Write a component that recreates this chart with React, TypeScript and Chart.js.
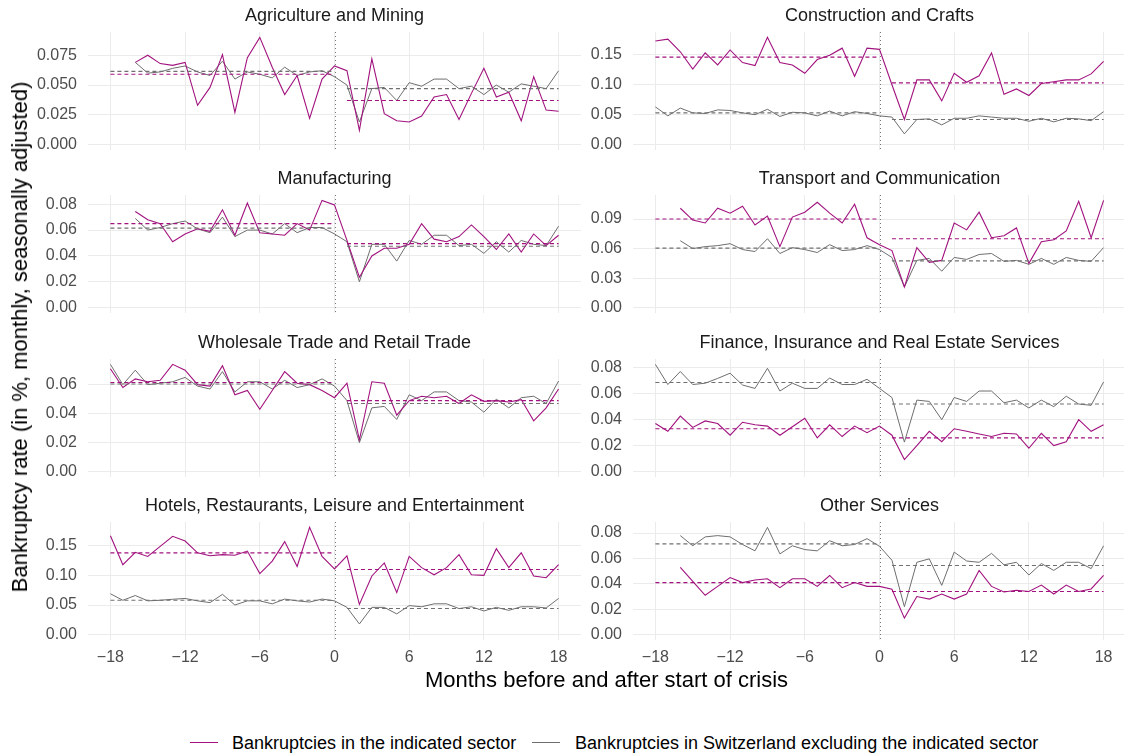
import React, { useEffect, useRef } from "react";
import { Chart, registerables } from "chart.js";

Chart.register(...registerables);

// ---------------- DATA ----------------
const months = [
  -18, -17, -16, -15, -14, -13, -12, -11, -10, -9, -8, -7, -6, -5, -4, -3, -2, -1, 0,
  1, 2, 3, 4, 5, 6, 7, 8, 9, 10, 11, 12, 13, 14, 15, 16, 17, 18,
];
const xTicks = [-18, -12, -6, 0, 6, 12, 18];

const agriSector = [
  null, null, 0.069, 0.075, 0.068, 0.0665, 0.069, 0.033, 0.048, 0.0755, 0.027, 0.073, 0.09, 0.065, 0.042, 0.058, 0.022, 0.055, 0.066,
  0.062, 0.012, 0.072, 0.026, 0.02, 0.019, 0.024, 0.04, 0.042, 0.021, 0.043, 0.064, 0.04, 0.044, 0.02, 0.057, 0.029, 0.028,
];
const agriRest = [
  null, null, 0.069, 0.06, 0.061, 0.064, 0.066, 0.061, 0.058, 0.07, 0.055, 0.061, 0.059, 0.056, 0.065, 0.058, 0.061, 0.062, 0.057,
  0.05, 0.019, 0.047, 0.048, 0.037, 0.052, 0.049, 0.055, 0.055, 0.047, 0.049, 0.042, 0.05, 0.044, 0.051, 0.049, 0.047, 0.062,
];
const agriSectorMeans = [0.059, 0.037];
const agriRestMeans = [0.0615, 0.047];
const agriYTicks = [0, 0.025, 0.05, 0.075];

const constrSector = [
  0.173, 0.176, 0.155, 0.126, 0.153, 0.133, 0.158, 0.137, 0.132, 0.179, 0.137, 0.133, 0.119, 0.142, 0.149, 0.161, 0.114, 0.161, 0.159,
  0.1, 0.042, 0.108, 0.108, 0.073, 0.119, 0.104, 0.115, 0.153, 0.084, 0.093, 0.082, 0.102, 0.105, 0.108, 0.108, 0.118, 0.139,
];
const constrRest = [
  0.063, 0.048, 0.061, 0.053, 0.052, 0.058, 0.057, 0.053, 0.05, 0.059, 0.047, 0.054, 0.053, 0.048, 0.056, 0.048, 0.055, 0.052, 0.048,
  0.046, 0.018, 0.042, 0.043, 0.033, 0.044, 0.044, 0.048, 0.046, 0.044, 0.044, 0.039, 0.044, 0.038, 0.044, 0.043, 0.04, 0.055,
];
const constrSectorMeans = [0.146, 0.103];
const constrRestMeans = [0.053, 0.042];
const constrYTicks = [0, 0.05, 0.1, 0.15];

const manuSector = [
  null, null, 0.0744, 0.068, 0.065, 0.051, 0.057, 0.061, 0.059, 0.0757, 0.056, 0.081, 0.058, 0.057, 0.056, 0.065, 0.06, 0.083, 0.0795,
  0.052, 0.0235, 0.04, 0.046, 0.046, 0.049, 0.065, 0.053, 0.051, 0.055, 0.064, 0.055, 0.045, 0.057, 0.043, 0.057, 0.048, 0.056,
];
const manuRest = [
  null, null, 0.069, 0.06, 0.062, 0.065, 0.067, 0.061, 0.058, 0.07, 0.055, 0.06, 0.06, 0.057, 0.065, 0.058, 0.062, 0.062, 0.057,
  0.051, 0.02, 0.049, 0.049, 0.036, 0.052, 0.049, 0.056, 0.056, 0.048, 0.049, 0.042, 0.051, 0.043, 0.052, 0.049, 0.048, 0.063,
];
const manuSectorMeans = [0.065, 0.0495];
const manuRestMeans = [0.0615, 0.0475];
const manuYTicks = [0, 0.02, 0.04, 0.06, 0.08];

const transSector = [
  null, null, 0.101, 0.089, 0.086, 0.101, 0.096, 0.103, 0.084, 0.093, 0.062, 0.092, 0.097, 0.107, 0.096, 0.086, 0.105, 0.071, 0.064,
  0.058, 0.021, 0.061, 0.046, 0.048, 0.086, 0.079, 0.097, 0.071, 0.073, 0.081, 0.045, 0.067, 0.069, 0.078, 0.108, 0.071, 0.109,
];
const transRest = [
  null, null, 0.068, 0.06, 0.062, 0.063, 0.065, 0.059, 0.057, 0.07, 0.055, 0.061, 0.059, 0.056, 0.064, 0.058, 0.059, 0.063, 0.059,
  0.051, 0.021, 0.048, 0.05, 0.037, 0.051, 0.049, 0.054, 0.055, 0.047, 0.048, 0.044, 0.05, 0.044, 0.051, 0.048, 0.047, 0.061,
];
const transSectorMeans = [0.09, 0.07];
const transRestMeans = [0.0605, 0.0475];
const transYTicks = [0, 0.03, 0.06, 0.09];

const tradeSector = [
  0.071, 0.058, 0.064, 0.062, 0.063, 0.074, 0.07, 0.06, 0.059, 0.073, 0.053, 0.056, 0.043, 0.056, 0.069, 0.061, 0.06, 0.056, 0.051,
  0.061, 0.022, 0.062, 0.061, 0.039, 0.049, 0.052, 0.051, 0.052, 0.047, 0.053, 0.0485, 0.049, 0.048, 0.0497, 0.035, 0.044, 0.057,
];
const tradeRest = [
  0.074, 0.06, 0.07, 0.06, 0.061, 0.062, 0.065, 0.059, 0.057, 0.069, 0.055, 0.062, 0.062, 0.057, 0.063, 0.058, 0.06, 0.064, 0.059,
  0.049, 0.02, 0.044, 0.045, 0.036, 0.053, 0.049, 0.055, 0.055, 0.049, 0.048, 0.041, 0.05, 0.044, 0.051, 0.052, 0.047, 0.0625,
];
const tradeSectorMeans = [0.0615, 0.049];
const tradeRestMeans = [0.0605, 0.047];
const tradeYTicks = [0, 0.02, 0.04, 0.06];

const finSector = [
  0.037, 0.031, 0.0427, 0.034, 0.039, 0.037, 0.028, 0.038, 0.036, 0.035, 0.028, 0.0345, 0.041, 0.026, 0.036, 0.027, 0.035, 0.03, 0.035,
  0.028, 0.0093, 0.02, 0.031, 0.023, 0.033, 0.031, 0.029, 0.027, 0.0295, 0.029, 0.018, 0.0295, 0.02, 0.023, 0.04, 0.031, 0.036,
];
const finRest = [
  0.0825, 0.067, 0.077, 0.067, 0.068, 0.0717, 0.0757, 0.0666, 0.064, 0.0795, 0.062, 0.068, 0.064, 0.064, 0.072, 0.067, 0.067, 0.071, 0.064,
  0.057, 0.0227, 0.055, 0.054, 0.04, 0.057, 0.054, 0.062, 0.062, 0.053, 0.055, 0.049, 0.055, 0.05, 0.058, 0.052, 0.051, 0.069,
];
const finSectorMeans = [0.033, 0.026];
const finRestMeans = [0.0685, 0.052];
const finYTicks = [0, 0.02, 0.04, 0.06, 0.08];

const hotelSector = [
  0.167, 0.118, 0.139, 0.132, 0.149, 0.166, 0.158, 0.138, 0.133, 0.135, 0.134, 0.141, 0.103, 0.124, 0.157, 0.115, 0.181, 0.132, 0.111,
  0.133, 0.051, 0.099, 0.121, 0.071, 0.132, 0.113, 0.101, 0.113, 0.135, 0.101, 0.1, 0.145, 0.113, 0.138, 0.099, 0.096, 0.118,
];
const hotelRest = [
  0.069, 0.058, 0.066, 0.057, 0.058, 0.0597, 0.061, 0.057, 0.054, 0.068, 0.05, 0.057, 0.057, 0.052, 0.06, 0.057, 0.055, 0.06, 0.057,
  0.046, 0.018, 0.046, 0.046, 0.035, 0.049, 0.047, 0.052, 0.052, 0.044, 0.047, 0.04, 0.046, 0.041, 0.047, 0.047, 0.045, 0.061,
];
const hotelSectorMeans = [0.138, 0.11];
const hotelRestMeans = [0.058, 0.044];
const hotelYTicks = [0, 0.05, 0.1, 0.15];

const otherSector = [
  null, null, 0.053, 0.042, 0.031, 0.038, 0.045, 0.041, 0.043, 0.044, 0.037, 0.044, 0.044, 0.038, 0.0466, 0.037, 0.041, 0.038, 0.038,
  0.0357, 0.013, 0.03, 0.028, 0.032, 0.028, 0.032, 0.0506, 0.038, 0.0336, 0.035, 0.034, 0.039, 0.032, 0.039, 0.034, 0.036, 0.0466,
];
const otherRest = [
  null, null, 0.078, 0.07, 0.077, 0.078, 0.077, 0.071, 0.066, 0.0845, 0.0636, 0.07, 0.067, 0.066, 0.074, 0.07, 0.071, 0.0756, 0.0696,
  0.0586, 0.022, 0.057, 0.0597, 0.0388, 0.065, 0.058, 0.057, 0.064, 0.055, 0.057, 0.047, 0.056, 0.0506, 0.057, 0.057, 0.052, 0.07,
];
const otherSectorMeans = [0.041, 0.034];
const otherRestMeans = [0.0715, 0.0545];
const otherYTicks = [0, 0.02, 0.04, 0.06, 0.08];

const panelTitles = [
  "Agriculture and Mining",
  "Construction and Crafts",
  "Manufacturing",
  "Transport and Communication",
  "Wholesale Trade and Retail Trade",
  "Finance, Insurance and Real Estate Services",
  "Hotels, Restaurants, Leisure and Entertainment",
  "Other Services",
];

const legendLabels = [
  "Bankruptcies in the indicated sector",
  "Bankruptcies in Switzerland excluding the indicated sector",
];
const yAxisTitle = "Bankruptcy rate (in %, monthly, seasonally adjusted)";
const xAxisTitle = "Months before and after start of crisis";

// ---------------- STYLE / LAYOUT ----------------
const FONT = "'Liberation Sans', Arial, Helvetica, sans-serif";
const MAG = "#A1127E";
const GREY = "#6E6E6E";
const GREY_DASH = "#707070";
const GRID = "#EBEBEB";
const TICK_COL = "#4D4D4D";
const TITLE_COL = "#1A1A1A";

const PLOT_W = 493;
const PLOT_H = 118;
const Y_AXIS_W = 60;
const TITLE_H = 30;
const COL_LEFT = [88, 633];
const ROW_TOP = [32, 195, 359, 522];

type PanelDef = {
  title: string;
  sector: (number | null)[];
  rest: (number | null)[];
  sectorMeans: number[];
  restMeans: number[];
  yTicks: number[];
  decimals: number;
};

const panels: PanelDef[] = [
  { title: panelTitles[0], sector: agriSector, rest: agriRest, sectorMeans: agriSectorMeans, restMeans: agriRestMeans, yTicks: agriYTicks, decimals: 3 },
  { title: panelTitles[1], sector: constrSector, rest: constrRest, sectorMeans: constrSectorMeans, restMeans: constrRestMeans, yTicks: constrYTicks, decimals: 2 },
  { title: panelTitles[2], sector: manuSector, rest: manuRest, sectorMeans: manuSectorMeans, restMeans: manuRestMeans, yTicks: manuYTicks, decimals: 2 },
  { title: panelTitles[3], sector: transSector, rest: transRest, sectorMeans: transSectorMeans, restMeans: transRestMeans, yTicks: transYTicks, decimals: 2 },
  { title: panelTitles[4], sector: tradeSector, rest: tradeRest, sectorMeans: tradeSectorMeans, restMeans: tradeRestMeans, yTicks: tradeYTicks, decimals: 2 },
  { title: panelTitles[5], sector: finSector, rest: finRest, sectorMeans: finSectorMeans, restMeans: finRestMeans, yTicks: finYTicks, decimals: 2 },
  { title: panelTitles[6], sector: hotelSector, rest: hotelRest, sectorMeans: hotelSectorMeans, restMeans: hotelRestMeans, yTicks: hotelYTicks, decimals: 2 },
  { title: panelTitles[7], sector: otherSector, rest: otherRest, sectorMeans: otherSectorMeans, restMeans: otherRestMeans, yTicks: otherYTicks, decimals: 2 },
];

const zeroLinePlugin = {
  id: "zeroLine",
  beforeDatasetsDraw(chart: any) {
    const { ctx, chartArea, scales } = chart;
    const x = Math.round(scales.x.getPixelForValue(0)) + 0.5;
    ctx.save();
    ctx.strokeStyle = "#777777";
    ctx.lineWidth = 1;
    ctx.setLineDash([1, 3]);
    ctx.beginPath();
    ctx.moveTo(x, chartArea.top);
    ctx.lineTo(x, chartArea.bottom);
    ctx.stroke();
    ctx.restore();
  },
};

function fmtMonth(v: number) {
  return v < 0 ? "\u2212" + Math.abs(v) : String(v);
}

function Panel({ p, col, row, bottom }: { p: PanelDef; col: number; row: number; bottom: boolean }) {
  const ref = useRef<HTMLCanvasElement>(null);
  const xh = bottom ? 32 : 24;
  const W = Y_AXIS_W + PLOT_W;
  const H = TITLE_H + PLOT_H + xh;
  const left = COL_LEFT[col] - Y_AXIS_W;
  const top = ROW_TOP[row] - TITLE_H;

  useEffect(() => {
    if (!ref.current) return;
    const vals = [...p.sector, ...p.rest, ...p.sectorMeans, ...p.restMeans].filter(
      (v) => v !== null
    ) as number[];
    const lo = Math.min(0, ...vals);
    const hi = Math.max(...vals);
    const pad = (hi - lo) * 0.05;
    const xPad = (months[months.length - 1] - months[0]) * 0.05;
    const pts = (arr: (number | null)[]) => months.map((m, i) => ({ x: m, y: arr[i] }));
    const pre = months.filter((m) => m <= 0);
    const post = months.filter((m) => m >= 1);
    const seg = (ms: number[], v: number) => [
      { x: ms[0], y: v },
      { x: ms[ms.length - 1], y: v },
    ];
    const lineDs = (data: any, color: string, order: number, dash: number[] = [], w = 1) => ({
      data,
      borderColor: color,
      backgroundColor: color,
      borderWidth: w,
      borderDash: dash,
      pointRadius: 0,
      tension: 0,
      spanGaps: false,
      fill: false,
      order,
    });

    const chart = new Chart(ref.current, {
      type: "line",
      data: {
        datasets: [
          lineDs(pts(p.rest), GREY, 4, [], 1),
          lineDs(pts(p.sector), MAG, 3, [], 1.1),
          lineDs(seg(pre, p.restMeans[0]), GREY_DASH, 2, [4, 3], 1.1),
          lineDs(seg(post, p.restMeans[1]), GREY_DASH, 2, [4, 3], 1.1),
          lineDs(seg(pre, p.sectorMeans[0]), MAG, 1, [4, 3], 1.1),
          lineDs(seg(post, p.sectorMeans[1]), MAG, 1, [4, 3], 1.1),
        ] as any,
      },
      options: {
        responsive: false,
        animation: false,
        devicePixelRatio: 1,
        layout: { padding: 0 },
        events: [],
        plugins: {
          legend: { display: false },
          tooltip: { enabled: false },
          title: {
            display: true,
            text: p.title,
            fullSize: false,
            color: TITLE_COL,
            font: { family: FONT, size: 18, weight: "normal" as any, lineHeight: 1.2 },
            padding: { top: 2.8, bottom: TITLE_H - 2.8 - 21.6 },
          },
        },
        scales: {
          x: {
            type: "linear",
            min: months[0] - xPad,
            max: months[months.length - 1] + xPad,
            afterBuildTicks: (s: any) => {
              s.ticks = xTicks.map((v) => ({ value: v }));
            },
            afterFit: (s: any) => {
              s.height = xh;
            },
            grid: { color: GRID, lineWidth: 1, drawTicks: false },
            border: { display: false },
            ticks: {
              display: bottom,
              padding: 8,
              color: TICK_COL,
              autoSkip: false,
              maxRotation: 0,
              font: { family: FONT, size: 16 },
              callback: (v: any) => fmtMonth(Number(v)),
            },
          },
          y: {
            type: "linear",
            min: lo - pad,
            max: hi + pad,
            afterBuildTicks: (s: any) => {
              s.ticks = p.yTicks.map((v) => ({ value: v }));
            },
            afterFit: (s: any) => {
              s.width = Y_AXIS_W;
            },
            grid: { color: GRID, lineWidth: 1, drawTicks: false },
            border: { display: false },
            ticks: {
              padding: 11,
              color: TICK_COL,
              font: { family: FONT, size: 16 },
              callback: (v: any) => Number(v).toFixed(p.decimals),
            },
          },
        },
      } as any,
      plugins: [zeroLinePlugin],
    });
    return () => chart.destroy();
  }, [p, xh]);

  return (
    <canvas
      ref={ref}
      width={W}
      height={H}
      style={{ position: "absolute", left, top, width: W, height: H }}
    />
  );
}

export default function App() {
  return (
    <div
      style={{
        position: "absolute",
        left: 0,
        top: 0,
        width: 1124,
        height: 756,
        overflow: "hidden",
        background: "#ffffff",
        fontFamily: FONT,
      }}
    >
      {panels.map((p, i) => (
        <Panel key={i} p={p} col={i % 2} row={Math.floor(i / 2)} bottom={i >= 6} />
      ))}
      <div
        style={{
          position: "absolute",
          left: 20,
          top: 337,
          transform: "translate(-50%, -50%) rotate(-90deg)",
          whiteSpace: "nowrap",
          fontSize: 22,
          lineHeight: "22px",
          color: "#000",
        }}
      >
        {yAxisTitle}
      </div>
      <div
        style={{
          position: "absolute",
          left: 0,
          width: 1213,
          top: 669,
          textAlign: "center",
          whiteSpace: "nowrap",
          fontSize: 22,
          lineHeight: "22px",
          color: "#000",
        }}
      >
        {xAxisTitle}
      </div>
      <div style={{ position: "absolute", left: 190, top: 742, width: 28, height: 1.4, background: MAG }} />
      <div style={{ position: "absolute", left: 232, top: 734, fontSize: 18, lineHeight: "18px", whiteSpace: "nowrap", color: "#000" }}>
        {legendLabels[0]}
      </div>
      <div style={{ position: "absolute", left: 532, top: 742, width: 28, height: 1.4, background: GREY }} />
      <div style={{ position: "absolute", left: 575, top: 734, fontSize: 18, lineHeight: "18px", whiteSpace: "nowrap", color: "#000" }}>
        {legendLabels[1]}
      </div>
    </div>
  );
}
